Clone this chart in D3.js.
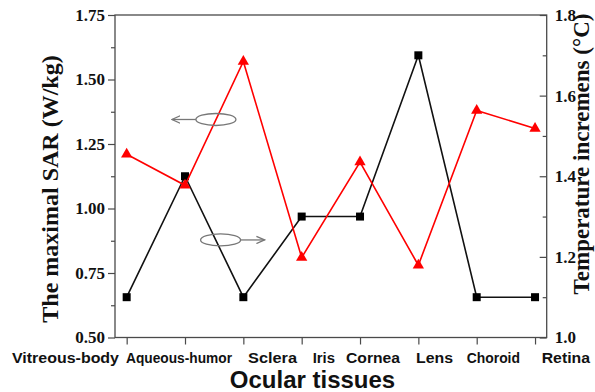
<!DOCTYPE html>
<html>
<head>
<meta charset="utf-8">
<script src="https://cdn.jsdelivr.net/npm/d3@7"></script>
<style>
  html, body { margin: 0; padding: 0; background: #fff; }
  svg { display: block; }
</style>
</head>
<body>
<svg id="chart" width="595" height="392"></svg>
<script>
// Ocular tissues along the x axis
const tissues = ["Vitreous-body", "Aqueous-humor", "Sclera", "Iris", "Cornea", "Lens", "Choroid", "Retina"];
// Maximal SAR (W/kg), left axis, red triangles
const sarValues = [1.21, 1.09, 1.57, 0.81, 1.18, 0.78, 1.38, 1.31];
// Temperature increment (°C), right axis, black squares
const tempValues = [1.10, 1.40, 1.10, 1.30, 1.30, 1.70, 1.10, 1.10];
// Axis ticks
const sarTicks = [0.50, 0.75, 1.00, 1.25, 1.50, 1.75];
const tempTicks = [1.0, 1.2, 1.4, 1.6, 1.8];

const svg = d3.select("#chart");
const plotLeft = 115, plotRight = 546.7, plotTop = 15, plotBottom = 337.5;

const x = d3.scalePoint().domain(tissues).range([plotLeft, plotRight]).padding(0.2);
const ySar = d3.scaleLinear().domain([0.5, 1.75]).range([plotBottom, plotTop]);
const yTemp = d3.scaleLinear().domain([1.0, 1.8]).range([plotBottom, plotTop]);

const axisColor = "#4a4a4a";
const serif = "'Liberation Serif', 'Times New Roman', serif";
const sans = "'Liberation Sans', Arial, sans-serif";

// minor ticks halfway between the labelled ones
const sarMinor = d3.range(0.625, 1.75, 0.25);
const tempMinor = d3.range(1.1, 1.8, 0.2);

function styleAxis(g) {
  g.select(".domain").remove();
  g.selectAll(".tick line").attr("stroke", axisColor).attr("stroke-width", 1.2);
  g.selectAll("text").attr("font-family", serif).attr("font-weight", "bold")
    .attr("font-size", 17).attr("fill", "#111");
}

// left axis: outward ticks
svg.append("g").attr("transform", `translate(${plotLeft},0)`)
  .call(d3.axisLeft(ySar).tickValues(sarTicks).tickFormat(d3.format(".2f")).tickSize(7).tickPadding(3))
  .call(styleAxis);
svg.append("g").attr("transform", `translate(${plotLeft},0)`)
  .call(d3.axisLeft(ySar).tickValues(sarMinor).tickFormat("").tickSize(4))
  .call(styleAxis);

// right axis: inward ticks
svg.append("g").attr("transform", `translate(${plotRight},0)`)
  .call(d3.axisRight(yTemp).tickValues(tempTicks).tickFormat(d3.format(".1f")).tickSize(-7).tickPadding(8))
  .call(styleAxis);
svg.append("g").attr("transform", `translate(${plotRight},0)`)
  .call(d3.axisRight(yTemp).tickValues(tempMinor).tickFormat("").tickSize(-4))
  .call(styleAxis);

// bottom axis: category ticks only
svg.append("g").attr("transform", `translate(0,${plotBottom})`)
  .call(d3.axisBottom(x).tickSize(7).tickFormat(""))
  .call(styleAxis);

// frame
svg.append("rect").attr("x", plotLeft).attr("y", plotTop)
  .attr("width", plotRight - plotLeft).attr("height", plotBottom - plotTop)
  .attr("fill", "none").attr("stroke", axisColor).attr("stroke-width", 1.3);

// category labels, laid out as one line under the axis (start and end of each word)
const labelSpan = [[12, 119], [126, 232], [248, 297], [312.7, 335], [346, 400], [416, 453], [466.7, 520], [541.7, 590]];
svg.append("g").selectAll("text").data(tissues).join("text")
  .attr("x", (d, i) => labelSpan[i][0]).attr("y", 363)
  .attr("textLength", (d, i) => labelSpan[i][1] - labelSpan[i][0])
  .attr("lengthAdjust", "spacingAndGlyphs")
  .attr("font-family", sans).attr("font-weight", "bold").attr("font-size", 14.5)
  .attr("fill", "#111").text(d => d);

svg.append("text").attr("x", 312.5).attr("y", 388)
  .attr("text-anchor", "middle").attr("font-family", sans).attr("font-weight", "bold")
  .attr("font-size", 24).attr("fill", "#111").text("Ocular tissues");

// axis titles
svg.append("text").attr("transform", "translate(58,189) rotate(-90)")
  .attr("text-anchor", "middle").attr("font-family", serif).attr("font-weight", "bold")
  .attr("font-size", 24).attr("fill", "#111").text("The maximal SAR (W/kg)");
svg.append("text").attr("transform", "translate(589,154) rotate(-90)")
  .attr("text-anchor", "middle").attr("font-family", serif).attr("font-weight", "bold")
  .attr("font-size", 23).attr("fill", "#111").text("Temperature incremens (°C)");

// temperature series
svg.append("path").datum(tempValues)
  .attr("fill", "none").attr("stroke", "#111").attr("stroke-width", 1.6)
  .attr("d", d3.line().x((d, i) => x(tissues[i])).y(d => yTemp(d)));
svg.append("g").selectAll("rect").data(tempValues).join("rect")
  .attr("x", (d, i) => x(tissues[i]) - 4).attr("y", d => yTemp(d) - 4)
  .attr("width", 8).attr("height", 8).attr("fill", "#000");

// SAR series
svg.append("path").datum(sarValues)
  .attr("fill", "none").attr("stroke", "#ff0000").attr("stroke-width", 1.6)
  .attr("d", d3.line().x((d, i) => x(tissues[i])).y(d => ySar(d)));
svg.append("g").selectAll("path").data(sarValues).join("path")
  .attr("transform", (d, i) => `translate(${x(tissues[i])},${ySar(d)})`)
  .attr("d", d3.symbol(d3.symbolTriangle, 55))
  .attr("fill", "#ff0000");

// series markers: ellipse with arrow pointing to the matching axis
const defs = svg.append("defs");
defs.append("marker").attr("id", "arrow").attr("viewBox", "0 0 10 10")
  .attr("refX", 9).attr("refY", 5).attr("markerWidth", 7).attr("markerHeight", 7)
  .attr("orient", "auto-start-reverse")
  .append("path").attr("d", "M0,1 L9,5 L0,9").attr("fill", "none")
  .attr("stroke", "#777").attr("stroke-width", 1.4);

const step = x.step();
const notes = [
  { cx: x(tissues[1]) + 0.53 * step, cy: ySar(1.345), dir: -1 },
  { cx: x(tissues[1]) + 0.61 * step, cy: yTemp(1.242), dir: 1 }
];
notes.forEach(n => {
  svg.append("ellipse").attr("cx", n.cx).attr("cy", n.cy).attr("rx", 20).attr("ry", 6)
    .attr("fill", "none").attr("stroke", "#777").attr("stroke-width", 1.3);
  const x0 = n.cx + n.dir * 20;
  svg.append("line").attr("x1", x0).attr("y1", n.cy)
    .attr("x2", x0 + n.dir * 24).attr("y2", n.cy)
    .attr("stroke", "#777").attr("stroke-width", 1.3)
    .attr("marker-end", "url(#arrow)");
});
</script>
</body>
</html>
